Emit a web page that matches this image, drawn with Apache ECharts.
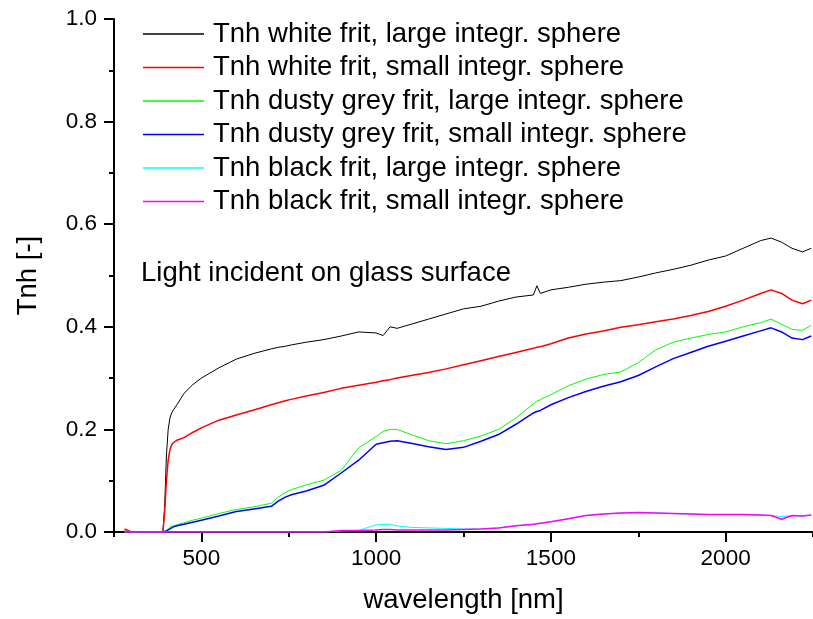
<!DOCTYPE html>
<html>
<head>
<meta charset="utf-8">
<script src="https://cdn.jsdelivr.net/npm/echarts@6/dist/echarts.min.js"></script>
<style>
  html, body { margin: 0; padding: 0; background: #fff; }
  #chart { width: 813px; height: 619px; }
</style>
</head>
<body>
<div id="chart"></div>
<script>
// wavelength grid [nm], shared by all series
const wavelength = [280, 300, 350, 390, 395, 400, 405, 410, 415, 420, 430, 450, 475, 500, 550, 600, 650, 700, 720, 740, 760, 800, 850, 900, 950, 1000, 1020, 1040, 1060, 1100, 1150, 1200, 1250, 1300, 1350, 1400, 1450, 1460, 1470, 1500, 1550, 1600, 1650, 1700, 1750, 1800, 1850, 1900, 1950, 2000, 2050, 2100, 2130, 2160, 2190, 2220, 2245]

const whiteLarge = [0.002, 0, 0, 0, 0.05, 0.15, 0.2, 0.222, 0.232, 0.238, 0.248, 0.27, 0.287, 0.3, 0.32, 0.337, 0.348, 0.357, 0.36, 0.362, 0.365, 0.37, 0.375, 0.382, 0.39, 0.388, 0.383, 0.4, 0.397, 0.405, 0.415, 0.425, 0.435, 0.44, 0.45, 0.458, 0.462, 0.48, 0.465, 0.472, 0.477, 0.483, 0.487, 0.49, 0.497, 0.505, 0.512, 0.52, 0.53, 0.538, 0.553, 0.568, 0.573, 0.565, 0.553, 0.546, 0.553]
const whiteSmall = [0.006, 0, 0, 0, 0.04, 0.1, 0.14, 0.16, 0.17, 0.174, 0.179, 0.184, 0.194, 0.203, 0.218, 0.228, 0.238, 0.248, 0.252, 0.256, 0.259, 0.265, 0.272, 0.28, 0.286, 0.292, 0.295, 0.297, 0.3, 0.305, 0.311, 0.318, 0.326, 0.334, 0.342, 0.35, 0.358, 0.36, 0.361, 0.367, 0.378, 0.386, 0.392, 0.399, 0.404, 0.41, 0.415, 0.422, 0.43, 0.44, 0.452, 0.465, 0.472, 0.465, 0.452, 0.445, 0.452]
const greyLarge = [0, 0, 0, 0, 0.001, 0.003, 0.006, 0.01, 0.011, 0.012, 0.014, 0.018, 0.023, 0.027, 0.036, 0.044, 0.049, 0.056, 0.068, 0.077, 0.083, 0.092, 0.101, 0.12, 0.164, 0.186, 0.196, 0.2, 0.2, 0.19, 0.178, 0.172, 0.178, 0.187, 0.2, 0.222, 0.25, 0.255, 0.258, 0.268, 0.285, 0.298, 0.307, 0.312, 0.33, 0.355, 0.37, 0.378, 0.385, 0.39, 0.4, 0.408, 0.415, 0.405, 0.395, 0.393, 0.403]
const greySmall = [0, 0, 0, 0, 0.001, 0.002, 0.004, 0.006, 0.008, 0.01, 0.012, 0.015, 0.019, 0.023, 0.031, 0.04, 0.045, 0.05, 0.06, 0.068, 0.073, 0.08, 0.091, 0.115, 0.14, 0.171, 0.174, 0.177, 0.178, 0.173, 0.166, 0.161, 0.165, 0.177, 0.19, 0.21, 0.232, 0.235, 0.237, 0.248, 0.262, 0.274, 0.284, 0.293, 0.305, 0.322, 0.338, 0.35, 0.362, 0.372, 0.382, 0.392, 0.398, 0.39, 0.378, 0.375, 0.382]
const blackLarge = [0, 0, 0, 0, 0, 0, 0, 0, 0, 0, 0, 0, 0, 0, 0, 0, 0, 0, 0, 0, 0, 0, 0, 0.002, 0.003, 0.014, 0.015, 0.015, 0.012, 0.009, 0.008, 0.007, 0.006, 0.006, 0.008, 0.012, 0.015, 0.016, 0.017, 0.02, 0.026, 0.032, 0.035, 0.037, 0.038, 0.037, 0.036, 0.035, 0.034, 0.034, 0.034, 0.033, 0.032, 0.03, 0.032, 0.031, 0.033]
const blackSmall = [0, 0, 0, 0, 0, 0, 0, 0, 0, 0, 0, 0, 0, 0, 0, 0, 0, 0, 0, 0, 0, 0, 0, 0.003, 0.003, 0.004, 0.005, 0.005, 0.004, 0.004, 0.004, 0.004, 0.005, 0.006, 0.008, 0.012, 0.015, 0.016, 0.017, 0.02, 0.026, 0.032, 0.035, 0.037, 0.038, 0.037, 0.036, 0.035, 0.034, 0.034, 0.034, 0.033, 0.032, 0.025, 0.032, 0.031, 0.033]

const seriesNames = [
  'Tnh white frit, large integr. sphere',
  'Tnh white frit, small integr. sphere',
  'Tnh dusty grey frit, large integr. sphere',
  'Tnh dusty grey frit, small integr. sphere',
  'Tnh black frit, large integr. sphere',
  'Tnh black frit, small integr. sphere'
]
const seriesValues = [whiteLarge, whiteSmall, greyLarge, greySmall, blackLarge, blackSmall]
const colors = ['#000000', '#ff0000', '#00ff00', '#0000ff', '#00ffff', '#ff00ff']
const widths = [1, 1.5, 1, 1.5, 1, 1.5]

const xMajorTicks = [500, 1000, 1500, 2000]
const xMinorTicks = [250, 750, 1250, 1750, 2250]

const font = 'Liberation Sans, Arial, sans-serif'

const chart = echarts.init(document.getElementById('chart'))

chart.setOption({
  animation: false,
  backgroundColor: '#fff',
  grid: { left: 114, top: 19, width: 700, height: 516 },
  legend: {
    orient: 'vertical',
    left: 143,
    top: 20,
    padding: 0,
    icon: 'rect',
    itemWidth: 61,
    itemHeight: 1.5,
    itemGap: 5.5,
    data: seriesNames,
    textStyle: { fontFamily: font, fontSize: 27.5, color: '#000', lineHeight: 28, padding: [0, 0, 0, 4] }
  },
  graphic: [{
    type: 'text',
    left: 141,
    top: 259,
    style: { text: 'Light incident on glass surface', fontFamily: font, fontSize: 27.5, fill: '#000' }
  }],
  xAxis: [
    {
      type: 'value',
      min: 250,
      max: 2250,
      position: 'bottom',
      name: 'wavelength [nm]',
      nameLocation: 'middle',
      nameGap: 54,
      nameTextStyle: { fontFamily: font, fontSize: 27.5, color: '#000' },
      axisLine: { show: true, lineStyle: { color: '#000', width: 2 } },
      axisTick: { show: true, customValues: xMajorTicks, length: 10, lineStyle: { color: '#000', width: 2 } },
      axisLabel: { customValues: xMajorTicks, margin: 15, fontFamily: font, fontSize: 22.5, color: '#000', formatter: v => String(v) },
      splitLine: { show: false }
    },
    {
      type: 'value',
      min: 250,
      max: 2250,
      position: 'bottom',
      axisLine: { show: false },
      axisTick: { show: true, customValues: xMinorTicks, length: 5, lineStyle: { color: '#000', width: 2 } },
      axisLabel: { show: false },
      splitLine: { show: false }
    }
  ],
  yAxis: {
    type: 'value',
    min: 0,
    max: 1,
    interval: 0.2,
    name: 'Tnh [-]',
    nameLocation: 'middle',
    nameGap: 72,
    nameTextStyle: { fontFamily: font, fontSize: 27.5, color: '#000' },
    axisLine: { show: true, lineStyle: { color: '#000', width: 2 } },
    axisTick: { show: true, length: 10, lineStyle: { color: '#000', width: 2 } },
    minorTick: { show: true, splitNumber: 2, length: 5, lineStyle: { color: '#000', width: 2 } },
    axisLabel: {
      margin: 17,
      fontFamily: font,
      fontSize: 22.5,
      color: '#000',
      formatter: v => v.toFixed(1)
    },
    splitLine: { show: false }
  },
  series: seriesNames.map((name, i) => ({
    name: name,
    type: 'line',
    xAxisIndex: 0,
    symbol: 'none',
    clip: true,
    data: wavelength.map((w, j) => [w, seriesValues[i][j]]),
    lineStyle: { color: colors[i], width: widths[i] },
    itemStyle: { color: colors[i] }
  }))
})
</script>
</body>
</html>
